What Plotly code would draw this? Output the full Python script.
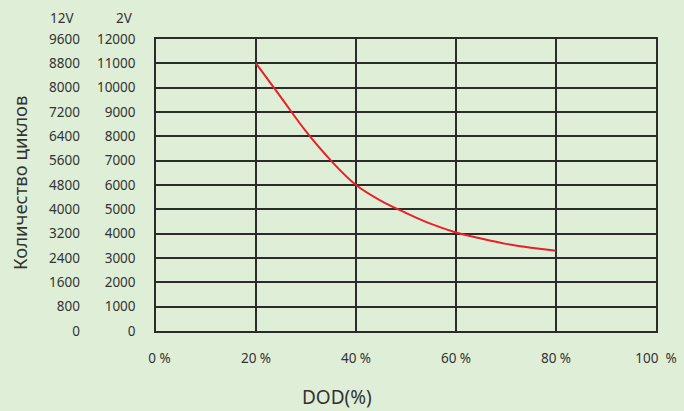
import plotly.graph_objects as go

# Data
dod = [20, 25, 30, 35, 40, 45, 50, 55, 60, 65, 70, 75, 80]
cycles_2v = [11000, 9600, 8200, 7000, 6000, 5350, 4850, 4400, 4050, 3800, 3580, 3420, 3300]
x_ticks = [0, 20, 40, 60, 80, 100]
x_ticktext = ["  0 %", "20 %", "40 %", "60 %", "80 %", "100  %"]
y2v_ticks = list(range(0, 12001, 1000))
y2v_text = [str(v) for v in y2v_ticks]
y12v_ticks = list(range(0, 9601, 800))
y12v_text = [str(v) for v in y12v_ticks]

W, H = 684, 411
ML, MR, MT, MB = 0, 28, 39, 80
PW = W - ML - MR
PH = H - MT - MB
PL = 156
BG = "#dfeed6"
TXT = "#333333"
FONT = "Noto Sans"
FS = 13.5


def ypap(py):
    return (H - MB - py) / PH


def xpap(px):
    return (px - ML) / PW


fig = go.Figure()
fig.add_trace(go.Scatter(x=dod, y=cycles_2v, mode="lines",
                         line=dict(color="#e8202a", width=2, shape="spline"),
                         showlegend=False, hoverinfo="skip"))
fig.add_trace(go.Scatter(x=[None], y=[None], yaxis="y2", showlegend=False))

fig.update_layout(
    width=W, height=H,
    margin=dict(l=ML, r=MR, t=MT, b=MB, autoexpand=False),
    paper_bgcolor=BG, plot_bgcolor=BG,
    font=dict(family=FONT, size=FS, color=TXT),
    xaxis=dict(domain=[xpap(PL), 1], range=[0, 100], tickvals=x_ticks, ticktext=x_ticktext,
               showgrid=True, gridcolor="#2b2b2b", gridwidth=1.5,
               showline=True, linecolor="#2b2b2b", linewidth=1.5, mirror=True,
               zeroline=False, ticks="", ticklabelstandoff=14,
               tickfont=dict(size=FS, color=TXT)),
    yaxis=dict(range=[0, 12000], tickvals=y2v_ticks, ticktext=y2v_text,
               showgrid=True, gridcolor="#2b2b2b", gridwidth=1.5,
               showline=True, linecolor="#2b2b2b", linewidth=1.5, mirror=True,
               zeroline=False, ticks="", ticklabelstandoff=16,
               tickfont=dict(size=FS, color=TXT)),
    yaxis2=dict(range=[0, 9600], tickvals=y12v_ticks, ticktext=y12v_text, overlaying="y",
                anchor="free", position=xpap(80), side="left",
                showgrid=False, showline=False, zeroline=False, ticks="",
                ticklabelstandoff=0, tickfont=dict(size=FS, color=TXT)),
    annotations=[
        dict(text="12V", x=xpap(62), y=ypap(18), xref="paper", yref="paper",
             xanchor="center", yanchor="middle", showarrow=False,
             font=dict(size=FS, color=TXT)),
        dict(text="2V", x=xpap(124), y=ypap(18), xref="paper", yref="paper",
             xanchor="center", yanchor="middle", showarrow=False,
             font=dict(size=FS, color=TXT)),
        dict(text="Количество циклов", x=xpap(19), y=ypap(183), xref="paper", yref="paper",
             xanchor="center", yanchor="middle", textangle=-90, showarrow=False,
             font=dict(size=18.5, color=TXT)),
        dict(text="DOD(%)", x=xpap(337), y=ypap(397), xref="paper", yref="paper",
             xanchor="center", yanchor="middle", showarrow=False,
             font=dict(size=19, color=TXT)),
    ],
)

fig.write_html("out.html", config={"displayModeBar": False},
               post_script="document.body.style.margin='0';document.body.style.padding='0';")
